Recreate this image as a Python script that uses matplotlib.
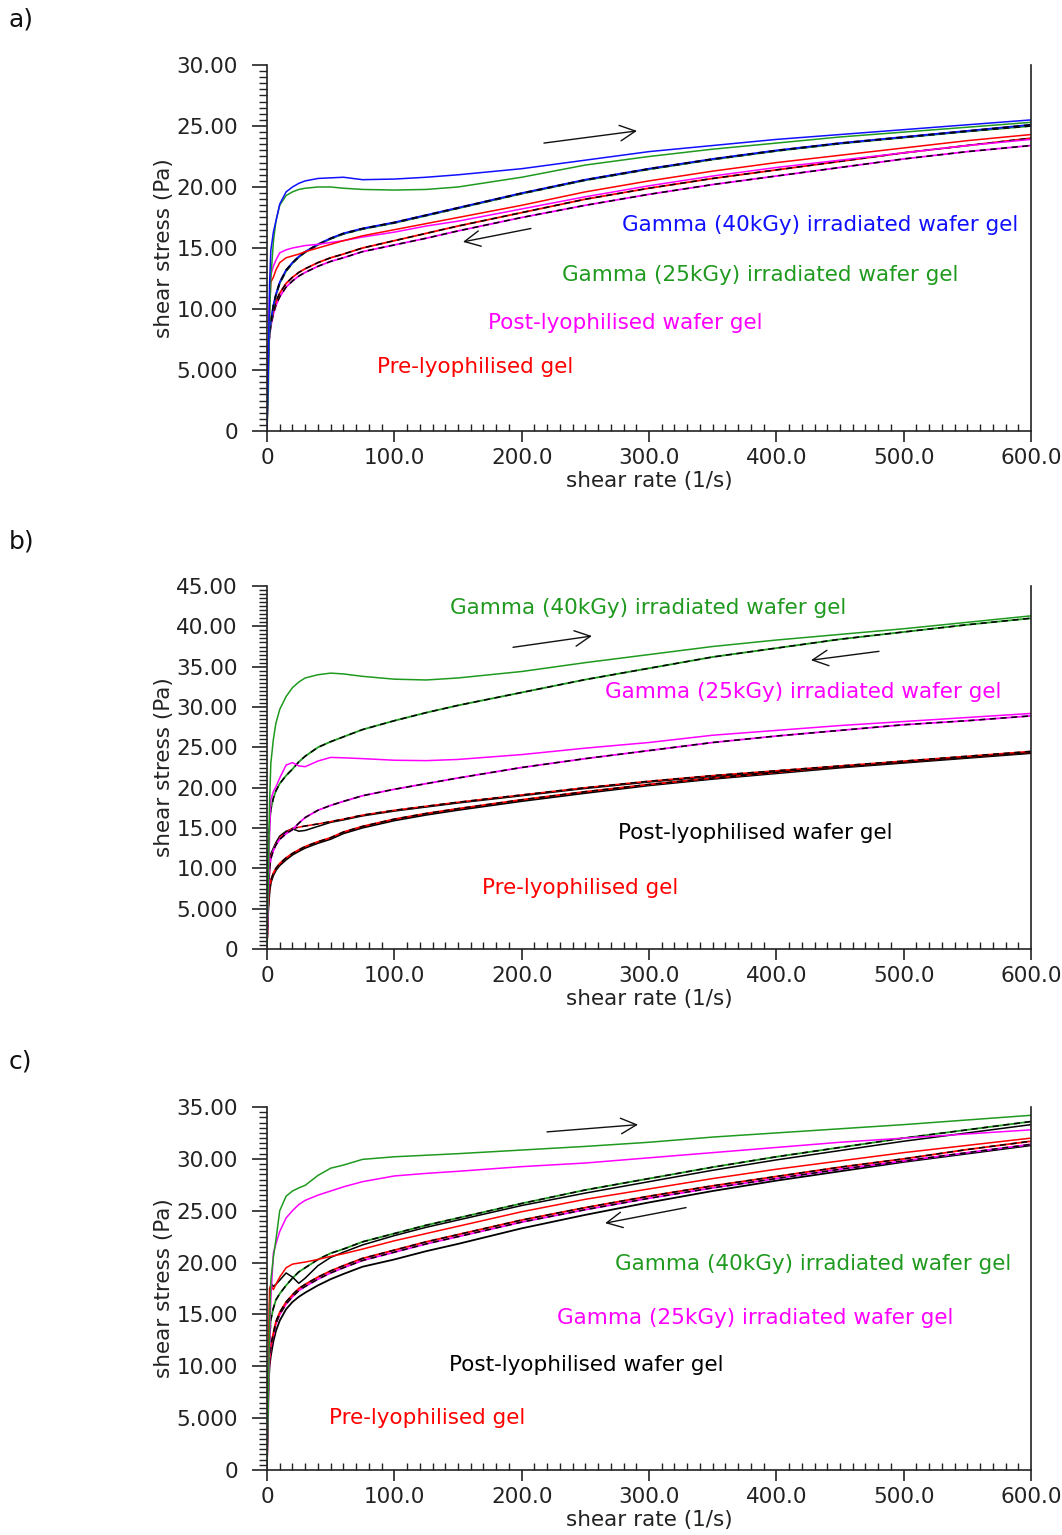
import matplotlib
matplotlib.use("Agg")
import matplotlib.pyplot as plt
from matplotlib.ticker import MultipleLocator, FuncFormatter

plt.rcParams['font.family'] = ['DejaVu Sans']

# shared shear-rate sampling (1/s)
rate = [0, 1, 2, 3, 5, 7, 10, 15, 20, 25, 30, 40, 50, 60, 75, 100, 125, 150,
        200, 250, 300, 350, 400, 450, 500, 550, 600]

# ---------------- panel a ----------------
a_g40_up = [0, 5, 12, 14.8, 16.3, 17.2, 18.6, 19.6, 20.0, 20.3, 20.5, 20.7, 20.75, 20.8, 20.6, 20.65, 20.8, 21.0,
            21.5, 22.2, 22.9, 23.4, 23.9, 24.3, 24.7, 25.1, 25.5]
a_g25_up = [0, 3, 9, 12.5, 15.5, 17.2, 18.5, 19.3, 19.6, 19.8, 19.9, 20.0, 20.0, 19.9, 19.8, 19.75, 19.8, 20.0,
            20.8, 21.8, 22.5, 23.1, 23.6, 24.1, 24.5, 24.9, 25.3]
a_g40_dn = [2, 6.5, 8.2, 9.0, 10.3, 11.2, 12.2, 13.2, 13.8, 14.3, 14.7, 15.3, 15.8, 16.2, 16.6, 17.1, 17.7, 18.3,
            19.5, 20.6, 21.5, 22.3, 23.0, 23.6, 24.1, 24.6, 25.1]
a_g25_dn = [2, 6.3, 8.0, 8.9, 10.2, 11.1, 12.1, 13.1, 13.75, 14.25, 14.65, 15.25, 15.75, 16.15, 16.55, 17.05, 17.65, 18.25,
            19.45, 20.55, 21.45, 22.25, 22.95, 23.55, 24.05, 24.55, 25.0]
a_post_up = [0, 6, 11, 12.8, 13.5, 14.0, 14.6, 14.85, 15.0, 15.1, 15.2, 15.3, 15.45, 15.6, 15.9, 16.3, 16.8, 17.2,
             18.2, 19.2, 20.1, 20.9, 21.6, 22.2, 22.8, 23.4, 23.9]
a_pre_up = [0, 5, 10, 12.2, 12.6, 13.2, 13.8, 14.2, 14.35, 14.5, 14.7, 15.0, 15.3, 15.6, 16.0, 16.5, 17.0, 17.5,
            18.5, 19.6, 20.5, 21.3, 22.0, 22.6, 23.2, 23.8, 24.3]
a_pre_dn = [3, 7, 8.2, 8.9, 9.9, 10.6, 11.3, 12.1, 12.6, 13.0, 13.3, 13.8, 14.2, 14.5, 15.0, 15.6, 16.2, 16.8,
            17.9, 19.0, 19.9, 20.7, 21.4, 22.1, 22.8, 23.4, 24.0]
a_post_dn = [2, 6.5, 7.8, 8.6, 9.6, 10.3, 11.0, 11.8, 12.3, 12.7, 13.0, 13.5, 13.9, 14.2, 14.7, 15.25, 15.8, 16.4,
             17.5, 18.5, 19.4, 20.2, 20.9, 21.6, 22.3, 22.9, 23.4]

# ---------------- panel b ----------------
b_g40_up = [0, 8, 18, 23.0, 26.0, 28.0, 29.7, 31.3, 32.4, 33.1, 33.6, 34.0, 34.2, 34.1, 33.8, 33.45, 33.35, 33.6,
            34.4, 35.5, 36.5, 37.5, 38.3, 39.0, 39.7, 40.5, 41.3]
b_g40_dn = [5, 12, 15.5, 17.3, 18.7, 19.6, 20.5, 21.5, 22.3, 23.2, 23.9, 25.0, 25.7, 26.3, 27.2, 28.3, 29.3, 30.2,
            31.8, 33.4, 34.8, 36.2, 37.3, 38.4, 39.3, 40.2, 41.0]
b_g25_up = [0, 6, 14, 18.5, 19.5, 20.1, 21.2, 22.8, 23.1, 22.7, 22.6, 23.3, 23.75, 23.7, 23.6, 23.4, 23.35, 23.5,
            24.1, 24.9, 25.6, 26.5, 27.1, 27.7, 28.2, 28.7, 29.2]
b_g25_dn = [2, 7, 10, 11.2, 12.2, 12.9, 13.6, 14.3, 14.8, 15.6, 16.3, 17.2, 17.8, 18.3, 19.0, 19.8, 20.5, 21.2,
            22.5, 23.6, 24.6, 25.6, 26.4, 27.1, 27.8, 28.3, 28.9]
b_post_up = [0, 6, 10.5, 11.8, 12.5, 13.2, 14.0, 14.6, 14.9, 14.6, 14.7, 15.2, 15.7, 16.0, 16.5, 17.1, 17.6, 18.1,
             19.0, 19.9, 20.7, 21.4, 22.0, 22.6, 23.2, 23.8, 24.4]
b_pre_up = [0, 5, 10, 11.5, 12.3, 13.0, 13.8, 14.5, 14.95, 15.1, 15.25, 15.5, 15.8, 16.1, 16.6, 17.2, 17.7, 18.2,
            19.1, 20.0, 20.8, 21.5, 22.1, 22.7, 23.3, 23.9, 24.5]
b_pre_dn = [2, 5.5, 7.5, 8.5, 9.4, 10.0, 10.6, 11.3, 11.85, 12.3, 12.7, 13.3, 13.8, 14.5, 15.2, 16.1, 16.8, 17.4,
            18.5, 19.5, 20.4, 21.2, 21.9, 22.6, 23.2, 23.8, 24.4]
b_post_dn = [2, 5.3, 7.3, 8.3, 9.2, 9.8, 10.4, 11.1, 11.7, 12.15, 12.55, 13.15, 13.65, 14.35, 15.05, 15.95, 16.65, 17.25,
             18.35, 19.35, 20.3, 21.1, 21.8, 22.5, 23.1, 23.7, 24.3]

# ---------------- panel c ----------------
c_g40_up = [0, 6, 14, 18.3, 20.5, 22.2, 25.0, 26.4, 26.9, 27.2, 27.45, 28.4, 29.1, 29.4, 29.95, 30.2, 30.35, 30.5,
            30.85, 31.2, 31.6, 32.1, 32.5, 32.9, 33.3, 33.75, 34.2]
c_g40_dn = [2, 9, 12.5, 14.5, 15.6, 16.4, 17.0, 17.8, 18.5, 19.1, 19.5, 20.3, 20.9, 21.3, 22.0, 22.8, 23.6, 24.3,
            25.7, 27.0, 28.1, 29.2, 30.2, 31.1, 32.0, 32.8, 33.6]
c_g25_up = [0, 5, 12, 16.5, 20.9, 21.8, 23.0, 24.3, 25.0, 25.6, 26.0, 26.5, 26.9, 27.3, 27.8, 28.35, 28.6, 28.8,
            29.25, 29.6, 30.1, 30.6, 31.1, 31.6, 32.0, 32.4, 32.8]
c_g25_dn = [2, 8, 10.5, 11.8, 13.0, 14.1, 15.0, 16.0, 16.7, 17.3, 17.7, 18.4, 19.0, 19.5, 20.2, 21.0, 21.8, 22.5,
            23.9, 25.1, 26.2, 27.2, 28.1, 29.0, 29.8, 30.6, 31.4]
c_post_up = [0, 7, 16, 18.0, 17.7, 17.9, 18.3, 19.0, 18.6, 18.0, 18.5, 19.7, 20.5, 21.0, 21.7, 22.6, 23.4, 24.1,
             25.5, 26.7, 27.8, 28.9, 29.9, 30.8, 31.7, 32.5, 33.3]
c_pre_up = [0, 8, 17.5, 17.8, 17.4, 17.9, 18.6, 19.5, 19.85, 19.95, 20.05, 20.3, 20.6, 20.85, 21.3, 22.1, 22.8, 23.5,
            24.9, 26.1, 27.1, 28.1, 29.0, 29.8, 30.6, 31.3, 32.0]
c_pre_dn = [2, 8.2, 10.7, 12.0, 13.2, 14.3, 15.2, 16.2, 16.9, 17.5, 17.9, 18.6, 19.2, 19.7, 20.4, 21.2, 22.0, 22.7,
            24.1, 25.3, 26.4, 27.4, 28.3, 29.2, 30.0, 30.9, 31.7]
c_post_dn = [2, 7.5, 10.0, 11.0, 12.4, 13.4, 14.4, 15.5, 16.2, 16.7, 17.1, 17.8, 18.4, 18.9, 19.6, 20.3, 21.1, 21.8,
             23.3, 24.6, 25.8, 26.9, 27.9, 28.8, 29.7, 30.5, 31.3]

labels_text = ["Gamma (40kGy) irradiated wafer gel", "Gamma (25kGy) irradiated wafer gel",
               "Post-lyophilised wafer gel", "Pre-lyophilised gel"]

BLUE = '#1010ff'
GREEN = '#1f9a1f'
MAG = '#ff00ff'
RED = '#ff0000'
BLK = '#000000'

W, H = 1062, 1535
fig = plt.figure(figsize=(W / 100, H / 100), dpi=100)


def make_ax(y0_px, ytop_px, ymax):
    left = 267 / W
    width = (1031 - 267) / W
    bottom = 1 - y0_px / H
    height = (y0_px - ytop_px) / H
    ax = fig.add_axes([left, bottom, width, height])
    ax.set_xlim(0, 600)
    ax.set_ylim(0, ymax)
    ax.spines['top'].set_visible(False)
    for s in ['left', 'bottom', 'right']:
        ax.spines[s].set_linewidth(1.2)
        ax.spines[s].set_color('#222222')
    ax.xaxis.set_major_locator(MultipleLocator(100))
    ax.xaxis.set_minor_locator(MultipleLocator(10))
    ax.yaxis.set_major_locator(MultipleLocator(5))
    ax.yaxis.set_minor_locator(MultipleLocator(0.5))
    ax.xaxis.set_major_formatter(FuncFormatter(lambda v, p: "0" if v == 0 else f"{v:.1f}"))
    ax.yaxis.set_major_formatter(FuncFormatter(
        lambda v, p: "0" if v == 0 else (f"{v:.3f}" if v < 10 else f"{v:.2f}")))
    ax.tick_params(axis='x', which='major', direction='out', length=8, width=1.2,
                   labelsize=15.5, pad=4, colors='#222222')
    ax.tick_params(axis='x', which='minor', direction='in', length=5, width=1.0, colors='#222222')
    ax.tick_params(axis='y', which='major', direction='out', length=11, width=1.2,
                   labelsize=15.5, pad=10, colors='#222222')
    ax.tick_params(axis='y', which='minor', direction='out', length=6, width=1.0, colors='#222222')
    ax.set_xlabel("shear rate (1/s)", fontsize=15.5, color='#222222')
    ax.set_ylabel("shear stress (Pa)", fontsize=15.5, color='#222222')
    ax.xaxis.set_label_coords(0.5, -0.11)
    ax.yaxis.set_label_coords(-0.122, 0.5)
    return ax


def up(ax, y, c):
    ax.plot(rate, y, color=c, lw=1.1, solid_joinstyle='round')


def down(ax, y, c):
    ax.plot(rate, y, color=c, lw=1.3)
    ax.plot(rate, y, color=BLK, lw=1.1, dashes=(4, 3))


def arrow(ax, x0, y0, x1, y1):
    ax.annotate("", xy=(x1, y1), xytext=(x0, y0),
                arrowprops=dict(arrowstyle='->', lw=1.0, color='#111111', mutation_scale=28,
                                shrinkA=0, shrinkB=0))


def label(ax, x, y, txt, c):
    ax.text(x, y, txt, color=c, fontsize=15.5, ha='center', va='center')


# ---- panel a ----
axa = make_ax(431, 65, 30)
down(axa, a_post_dn, MAG)
down(axa, a_pre_dn, RED)
down(axa, a_g25_dn, GREEN)
down(axa, a_g40_dn, BLUE)
up(axa, a_post_up, MAG)
up(axa, a_pre_up, RED)
up(axa, a_g25_up, GREEN)
up(axa, a_g40_up, BLUE)
arrow(axa, 217.5, 23.6, 290.6, 24.6)
arrow(axa, 207.3, 16.6, 153.9, 15.5)
label(axa, 434.3, 16.9, labels_text[0], BLUE)
label(axa, 387.2, 12.8, labels_text[1], GREEN)
label(axa, 281.6, 8.85, labels_text[2], MAG)
label(axa, 163.4, 5.25, labels_text[3], RED)

# ---- panel b ----
axb = make_ax(949, 586, 45)
axb.plot(rate, b_post_dn, color=BLK, lw=1.6)
down(axb, b_pre_dn, RED)
axb.plot(rate, b_post_up, color=BLK, lw=1.1)
axb.plot(rate, b_pre_up, color=RED, lw=1.1)
axb.plot(rate, b_pre_up, color=BLK, lw=1.1, dashes=(4, 3))
down(axb, b_g25_dn, MAG)
down(axb, b_g40_dn, GREEN)
up(axb, b_g25_up, MAG)
up(axb, b_g40_up, GREEN)
arrow(axb, 193.2, 37.4, 255.2, 38.8)
arrow(axb, 480.6, 36.9, 427.2, 35.8)
label(axb, 299.2, 42.27, labels_text[0], GREEN)
label(axb, 421.0, 31.86, labels_text[1], MAG)
label(axb, 383.7, 14.38, labels_text[2], BLK)
label(axb, 246.2, 7.56, labels_text[3], RED)

# ---- panel c ----
axc = make_ax(1470, 1107, 35)
axc.plot(rate, c_post_dn, color=BLK, lw=1.3)
down(axc, c_g25_dn, MAG)
down(axc, c_pre_dn, RED)
down(axc, c_g40_dn, GREEN)
axc.plot(rate, c_post_up, color=BLK, lw=1.1)
up(axc, c_pre_up, RED)
up(axc, c_g25_up, MAG)
up(axc, c_g40_up, GREEN)
arrow(axc, 219.9, 32.6, 291.4, 33.3)
arrow(axc, 329.1, 25.3, 265.5, 23.8)
label(axc, 428.8, 19.86, labels_text[0], GREEN)
label(axc, 383.3, 14.66, labels_text[1], MAG)
label(axc, 250.9, 10.12, labels_text[2], BLK)
label(axc, 126.1, 5.01, labels_text[3], RED)

for txt, ypx in [("a)", 20), ("b)", 541), ("c)", 1062)]:
    fig.text(9 / W, 1 - ypx / H, txt, fontsize=18, ha='left', va='center', color='#111111')

fig.savefig("out.png", dpi=100, facecolor='white')
